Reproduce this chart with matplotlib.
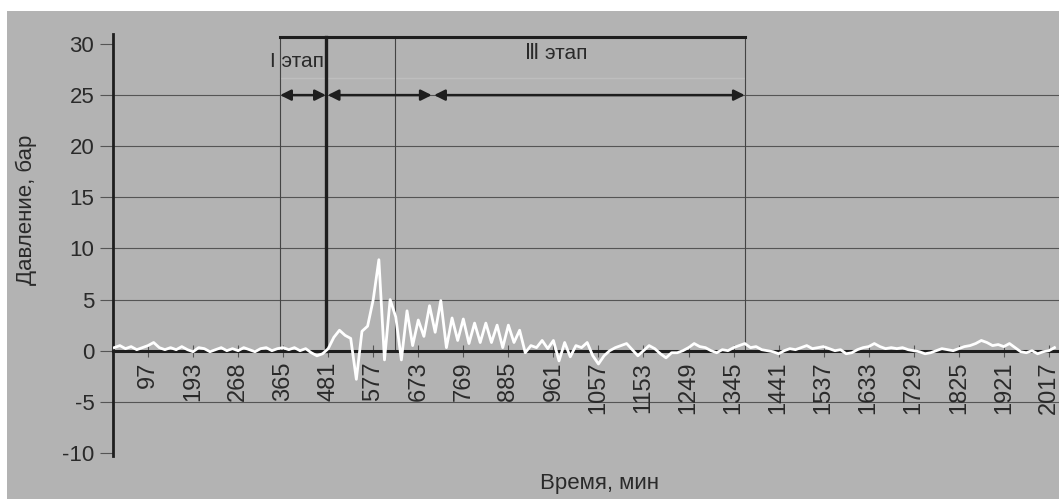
import numpy as np
import matplotlib
matplotlib.use("Agg")
from matplotlib import pyplot as plt
from matplotlib.patches import Rectangle

# давление по точкам (категориальная ось, подпись каждые 8 точек)
pressure = [
    0.3, 0.5, 0.2, 0.4, 0.1, 0.3, 0.5, 0.8, 0.3, 0.1,
    0.3, 0.1, 0.4, 0.1, -0.1, 0.3, 0.2, -0.1, 0.1, 0.3,
    0.0, 0.2, 0.0, 0.3, 0.1, -0.1, 0.2, 0.3, 0.0, 0.2,
    0.3, 0.1, 0.3, 0.0, 0.2, -0.2, -0.5, -0.3, 0.2, 1.3,
    2.0, 1.5, 1.2, -2.8, 1.9, 2.4, 5.0, 8.9, -0.9, 5.0,
    3.3, -0.9, 3.9, 0.5, 3.0, 1.4, 4.4, 1.8, 4.9, 0.3,
    3.2, 1.0, 3.1, 0.7, 2.7, 0.8, 2.7, 0.8, 2.5, 0.3,
    2.5, 0.8, 2.0, -0.2, 0.5, 0.3, 1.0, 0.2, 1.0, -1.0,
    0.8, -0.6, 0.5, 0.3, 0.8, -0.5, -1.3, -0.5, 0.0, 0.3,
    0.5, 0.7, 0.1, -0.5, 0.0, 0.5, 0.2, -0.3, -0.7, -0.2,
    -0.2, 0.0, 0.3, 0.7, 0.4, 0.3, 0.0, -0.2, 0.1, 0.0,
    0.3, 0.5, 0.7, 0.3, 0.4, 0.1, 0.0, -0.1, -0.3, 0.0,
    0.2, 0.1, 0.3, 0.5, 0.2, 0.3, 0.4, 0.2, 0.0, 0.1,
    -0.3, -0.2, 0.1, 0.3, 0.4, 0.7, 0.4, 0.2, 0.3, 0.2,
    0.3, 0.1, 0.0, -0.1, -0.3, -0.2, 0.0, 0.2, 0.1, 0.0,
    0.2, 0.4, 0.5, 0.7, 1.0, 0.8, 0.5, 0.6, 0.4, 0.7,
    0.3, -0.1, -0.2, 0.0, -0.3, -0.1, 0.0, 0.3,
]
time_labels = ["97", "193", "268", "365", "481", "577", "673", "769", "885",
               "961", "1057", "1153", "1249", "1345", "1441", "1537", "1633",
               "1729", "1825", "1921", "2017"]
y_ticks = [-10, -5, 0, 5, 10, 15, 20, 25, 30]

# границы этапов (в точках)
stage_start = 29.45
stage1_end = 37.6
stage_mid = 49.9
stage2_end = 56.6
stage_end = 112.0

first_tick = 6
tick_step = 8

plt.rcParams['font.family'] = ['Liberation Sans', 'DejaVu Sans']
txt = '#2a2a2a'
dark = '#1e1e1e'

fig = plt.figure(figsize=(10.59, 4.99), dpi=100)
bg = Rectangle((7 / 1059, 0), 1, 1 - 11 / 499, transform=fig.transFigure,
               facecolor='#b3b3b3', edgecolor='none', zorder=-10)
fig.add_artist(bg)
ax = fig.add_axes([113 / 1059, 0.0862, 1 - 113 / 1059, 0.8461])
ax.set_facecolor('none')

x = np.arange(len(pressure))
ax.set_xlim(-0.22, 167.8)
ax.set_ylim(-10.3, 31)

for y in [-5, 5, 10, 15, 20, 25]:
    ax.axhline(y, color='#555555', lw=0.8, zorder=1)

# рамка этапов
ax.plot([stage_start, stage_end], [30.7, 30.7], color=dark, lw=2.2, zorder=3)
ax.plot([stage_start, stage_end], [26.7, 26.7], color='#bebebe', lw=1.0, zorder=1)
for xv in [stage_start, stage_mid, stage_end]:
    ax.plot([xv, xv], [0, 30.7], color='#444444', lw=0.8, zorder=1)
ax.plot([stage1_end, stage1_end], [0, 30.7], color=dark, lw=2.4, zorder=3)

for a, b in [(stage_start, stage1_end), (stage1_end + 0.3, stage2_end - 0.2),
             (stage2_end + 0.2, stage_end)]:
    ax.annotate('', xy=(b, 25), xytext=(a, 25),
                arrowprops=dict(arrowstyle='<|-|>', color=dark, lw=1.8,
                                mutation_scale=16, shrinkA=0, shrinkB=0), zorder=4)

ax.text(stage1_end - 0.4, 28.3, 'I этап', ha='right', va='center', fontsize=15, color=txt)
ax.text(78.5, 29.1, 'Ⅲ этап', ha='center', va='center', fontsize=15, color=txt)

ax.plot(x, pressure, color='white', lw=2.0, zorder=5)

ax.spines['top'].set_visible(False)
ax.spines['right'].set_visible(False)
ax.spines['left'].set_color(dark)
ax.spines['left'].set_linewidth(2.0)
ax.spines['bottom'].set_position(('data', 0))
ax.spines['bottom'].set_color(dark)
ax.spines['bottom'].set_linewidth(2.2)
ax.spines['bottom'].set_zorder(4)

ax.set_yticks(y_ticks)
ax.set_yticklabels([str(v) for v in y_ticks], fontsize=16, color=txt)
ax.tick_params(axis='y', length=9.5, width=0.8, color='#555555', pad=4)

ax.set_xticks([first_tick + tick_step * i for i in range(len(time_labels))])
ax.set_xticklabels(time_labels, rotation=90, fontsize=17, color=txt)
ax.tick_params(axis='x', direction='inout', length=8, width=0.8, color='#555555', pad=4)

fig.text(26 / 1059, 1 - 210 / 499, 'Давление, бар', rotation=90, ha='center', va='center',
         fontsize=16, color=txt)
fig.text(600 / 1059, 1 - 483 / 499, 'Время, мин', ha='center', va='center',
         fontsize=16, color=txt)

fig.savefig('out.png', dpi=100)
